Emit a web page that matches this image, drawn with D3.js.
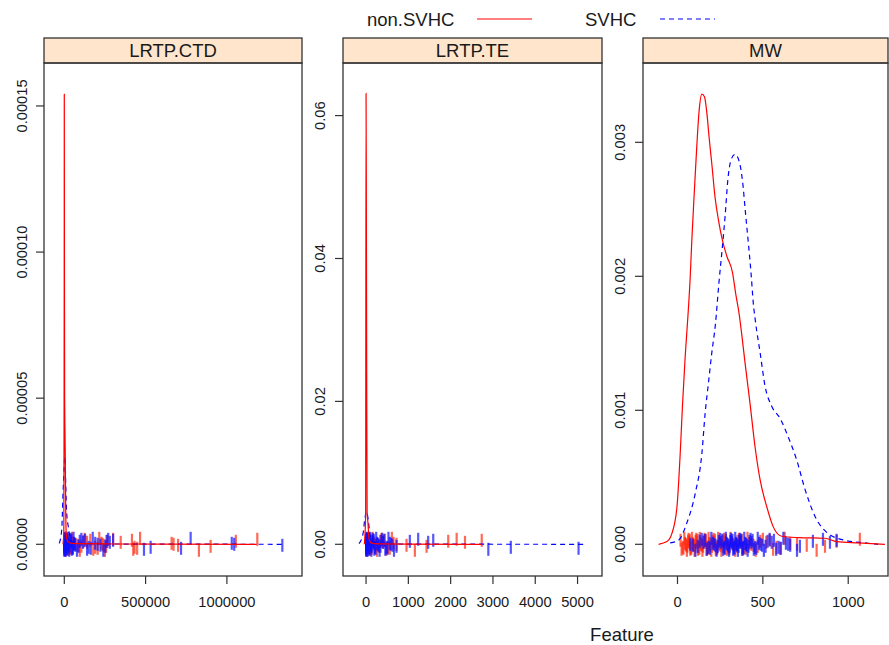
<!DOCTYPE html>
<html>
<head>
<meta charset="utf-8">
<script src="https://cdn.jsdelivr.net/npm/d3@7/dist/d3.min.js"></script>
<style>
html,body{margin:0;padding:0;background:#fff;}
svg{display:block;}
text{font-family:"Liberation Sans",Arial,sans-serif;fill:#1a1a1a;}
</style>
</head>
<body>
<svg id="chart" width="889" height="645"></svg>
<script>
// ---------------- data ----------------
const panelNames = ["LRTP.CTD", "LRTP.TE", "MW"];
const groups = ["non.SVHC", "SVHC"];

const xTicks_CTD = [0, 500000, 1000000];
const xTicks_TE = [0, 1000, 2000, 3000, 4000, 5000];
const xTicks_MW = [0, 500, 1000];
const yTicks_CTD = [0, 0.00005, 0.00010, 0.00015];
const yTicks_TE = [0, 0.02, 0.04, 0.06];
const yTicks_MW = [0, 0.001, 0.002, 0.003];
const yTickLabels_CTD = ["0.00000", "0.00005", "0.00010", "0.00015"];
const yTickLabels_TE = ["0.00", "0.02", "0.04", "0.06"];
const yTickLabels_MW = ["0.000", "0.001", "0.002", "0.003"];

// density curves [x, density]
const dens_nonSVHC_CTD = [[-8000,0],[-3000,0.000004],[-1500,0.00004],[-500,0.000093],[0,0.000154],[800,0.000093],[2000,0.00005],[3500,0.000041],[6000,0.00003],[9000,0.00001],[13000,0.0000027],[20000,0.0000012],[40000,0.0000004],[100000,0.0000002],[300000,0.0000001],[600000,0.00000005],[1183000,0]];
const dens_SVHC_CTD = [[-31000,0.0000003],[-16000,0.0000049],[-6000,0.00002],[4300,0.00003],[9000,0.00002],[14800,0.0000107],[24600,0.000006],[35000,0.0000025],[47000,0.0000008],[100000,0.0000003],[300000,0.0000001],[800000,0.00000005],[1347000,0]];
const dens_nonSVHC_TE = [[-40,0],[-10,0.004],[0,0.0631],[8,0.045],[15,0.024],[25,0.0046],[45,0.003],[70,0.0008],[120,0.0002],[300,0.00005],[1000,0.00002],[2735,0]];
const dens_SVHC_TE = [[-166,0.0001],[-71,0.0015],[-30,0.0035],[9,0.00456],[50,0.0035],[88,0.0015],[160,0.0003],[400,0.0001],[1000,0.00003],[3000,0.00001],[5223,0]];
const dens_nonSVHC_MW = [[-111,0],[-62,0.00002],[-33,0.00008],[-3,0.00028],[16,0.00068],[29,0.00103],[45,0.00140],[61,0.00170],[74,0.00198],[84,0.00227],[99,0.00264],[113,0.00297],[127,0.00324],[143,0.00336],[158,0.00334],[172,0.00322],[185,0.00304],[201,0.00284],[220,0.00259],[240,0.00242],[263,0.00227],[289,0.00215],[322,0.00203],[341,0.00187],[361,0.00172],[376,0.00157],[396,0.00135],[425,0.00105],[454,0.00073],[484,0.00048],[523,0.00028],[561,0.00013],[610,0.00006],[708,0.00005],[864,0.000045],[932,0.00002],[1059,0.00001],[1215,0]];
const dens_SVHC_MW = [[-43,0.00001],[6,0.00003],[55,0.00016],[104,0.00038],[143,0.00068],[162,0.00098],[181,0.0012],[201,0.00143],[222,0.00164],[244,0.00197],[263,0.00222],[279,0.00245],[295,0.00272],[314,0.00287],[337,0.00291],[361,0.00286],[380,0.00272],[400,0.00245],[415,0.00225],[431,0.00202],[444,0.0018],[458,0.00165],[484,0.00143],[513,0.00118],[552,0.00103],[601,0.00094],[649,0.0008],[698,0.00063],[747,0.00041],[805,0.00021],[883,0.00008],[981,0.00003],[1098,0.00001],[1175,0]];

// observed values (rug)
const rug_nonSVHC_CTD = [150,400,900,1500,2500,3300,4000,5200,7000,9000,11000,14000,18000,22000,26000,33000,40000,48000,55000,70000,85000,95000,105000,118000,125000,140000,160000,178000,190000,205000,215000,228000,235000,242000,250000,258000,265000,300000,347000,416000,424000,432000,448000,466000,660000,672000,700000,828000,900000,1055000,1187000];
const rug_SVHC_CTD = [50,100,300,600,900,1200,1600,2000,2500,3000,3700,4500,5200,6000,7000,8000,9000,10000,11500,13000,14500,16000,18000,20000,22000,24000,26000,28000,30500,33000,35500,38000,41000,44000,47000,50000,53000,57000,60000,64000,68000,78000,88000,95000,105000,115000,128000,140000,150000,163000,175000,190000,205000,222000,240000,252000,260000,270000,280000,300000,490000,531000,718000,777000,1030000,1045000,1341000];
const rug_nonSVHC_TE = [1,2,4,6,9,12,16,20,27,35,45,55,68,80,95,110,130,150,175,200,230,260,295,330,365,400,440,480,520,560,610,650,720,957,1154,1431,1943,2142,2339,2735];
const rug_SVHC_TE = [0.5,1,2,3,4,5,6,8,10,12,15,18,21,25,29,33,38,43,49,55,60,67,74,80,88,96,105,115,125,135,145,158,170,182,196,210,225,240,260,280,300,320,340,360,380,405,430,455,480,505,530,560,590,625,660,720,1035,1232,1469,1588,2891,3422,5024];
const rug_nonSVHC_MW = [18,24,30,35,40,44,48,52,55,58,62,65,68,72,75,78,81,85,88,92,96,100,103,106,110,113,117,120,124,128,131,135,138,142,146,150,154,158,162,166,170,174,178,182,186,190,194,198,202,206,211,215,220,224,229,233,238,242,247,252,257,262,267,272,278,284,290,296,303,310,317,324,331,338,345,352,360,368,376,384,392,400,410,420,432,445,458,470,485,500,520,540,560,580,600,628,660,700,757,815,864,932,1068];
const rug_SVHC_MW = [75,90,105,118,130,142,152,162,172,182,190,198,206,214,222,229,236,243,250,256,262,268,273,278,283,288,293,298,302,306,310,314,318,322,326,330,334,338,342,346,350,354,358,362,366,370,374,378,382,386,391,396,401,406,411,416,422,428,434,440,447,454,462,470,478,487,496,506,516,528,540,552,565,578,592,606,620,635,648,660,700,717,793,852,893,932];

// ---------------- layout ----------------
const svg = d3.select("#chart");
const colRed = "#ff0000", colBlue = "#0000ff";

const panels = [
  {name: panelNames[0], x0: 44, x1: 302, xDom: [-124846, 1461900], yDom: [-0.00001085, 0.0001647],
   xTicks: xTicks_CTD, yTicks: yTicks_CTD, yLabels: yTickLabels_CTD, labX: 22,
   dens: [dens_nonSVHC_CTD, dens_SVHC_CTD], rug: [rug_nonSVHC_CTD, rug_SVHC_CTD]},
  {name: panelNames[1], x0: 343, x1: 602, xDom: [-545, 5578], yDom: [-0.004437, 0.06736],
   xTicks: xTicks_TE, yTicks: yTicks_TE, yLabels: yTickLabels_TE, labX: 320,
   dens: [dens_nonSVHC_TE, dens_SVHC_TE], rug: [rug_nonSVHC_TE, rug_SVHC_TE]},
  {name: panelNames[2], x0: 643, x1: 888, xDom: [-202, 1233], yDom: [-0.0002366, 0.003592],
   xTicks: xTicks_MW, yTicks: yTicks_MW, yLabels: yTickLabels_MW, labX: 620,
   dens: [dens_nonSVHC_MW, dens_SVHC_MW], rug: [rug_nonSVHC_MW, rug_SVHC_MW]}
];
const stripTop = 38, stripBot = 63, plotBot = 576;
const jit = [-4, 2, -1, 5, -3, 0, 3, -5, 1, 4, -2, 6, -6];

panels.forEach((p, pi) => {
  const x = d3.scaleLinear().domain(p.xDom).range([p.x0, p.x1]);
  const y = d3.scaleLinear().domain(p.yDom).range([plotBot, stripBot]);
  const g = svg.append("g");
  const clipId = "clip" + pi;
  svg.append("clipPath").attr("id", clipId).append("rect")
    .attr("x", p.x0).attr("y", stripBot).attr("width", p.x1 - p.x0).attr("height", plotBot - stripBot);

  // strip
  g.append("rect").attr("x", p.x0).attr("y", stripTop).attr("width", p.x1 - p.x0).attr("height", stripBot - stripTop)
    .attr("fill", "#ffe5cc").attr("stroke", "#333").attr("stroke-width", 1.3);
  g.append("text").attr("x", (p.x0 + p.x1) / 2).attr("y", (stripTop + stripBot) / 2 + 6.5)
    .attr("text-anchor", "middle").attr("font-size", 18.5).text(p.name);

  const inner = g.append("g").attr("clip-path", `url(#${clipId})`);
  // rugs
  [0, 1].forEach(gi => {
    inner.selectAll(null).data(p.rug[gi]).enter().append("line")
      .attr("x1", d => x(d)).attr("x2", d => x(d))
      .attr("y1", (d, i) => y(0) + jit[(i * 3 + gi * 5) % jit.length] - 6.5)
      .attr("y2", (d, i) => y(0) + jit[(i * 3 + gi * 5) % jit.length] + 6.5)
      .attr("stroke", gi === 0 ? "#ff2a10" : "#1010ff").attr("stroke-opacity", 0.7).attr("stroke-width", 2.2);
  });
  // density lines
  const line = d3.line().curve(d3.curveMonotoneX).x(d => x(d[0])).y(d => y(d[1]));
  inner.append("path").datum(p.dens[1]).attr("d", line).attr("fill", "none")
    .attr("stroke", colBlue).attr("stroke-width", 1.2).attr("stroke-dasharray", "5,4");
  inner.append("path").datum(p.dens[0]).attr("d", line).attr("fill", "none")
    .attr("stroke", colRed).attr("stroke-width", 1.2);

  // frame
  g.append("rect").attr("x", p.x0).attr("y", stripBot).attr("width", p.x1 - p.x0).attr("height", plotBot - stripBot)
    .attr("fill", "none").attr("stroke", "#333").attr("stroke-width", 1.3);

  // y axis
  p.yTicks.forEach((t, i) => {
    g.append("line").attr("x1", p.x0 - 8).attr("x2", p.x0).attr("y1", y(t)).attr("y2", y(t))
      .attr("stroke", "#333").attr("stroke-width", 1.2);
    g.append("text").attr("transform", `translate(${p.labX + 5},${y(t)}) rotate(-90)`)
      .attr("text-anchor", "middle").attr("font-size", 14.7).text(p.yLabels[i]);
  });
  // x axis
  p.xTicks.forEach(t => {
    g.append("line").attr("x1", x(t)).attr("x2", x(t)).attr("y1", plotBot).attr("y2", plotBot + 8)
      .attr("stroke", "#333").attr("stroke-width", 1.2);
    g.append("text").attr("x", x(t)).attr("y", 607).attr("text-anchor", "middle").attr("font-size", 14.7).text(String(t));
  });
});

// x label
svg.append("text").attr("x", 622).attr("y", 641).attr("text-anchor", "middle").attr("font-size", 18.5).text("Feature");

// legend
const lg = svg.append("g");
lg.append("text").attr("x", 367).attr("y", 26).attr("font-size", 18.5).text(groups[0]);
lg.append("line").attr("x1", 477).attr("x2", 532).attr("y1", 19).attr("y2", 19).attr("stroke", colRed).attr("stroke-width", 1.2);
lg.append("text").attr("x", 585).attr("y", 26).attr("font-size", 18.5).text(groups[1]);
lg.append("line").attr("x1", 660).attr("x2", 715).attr("y1", 19).attr("y2", 19).attr("stroke", colBlue).attr("stroke-width", 1.2).attr("stroke-dasharray", "5,4");
</script>
</body>
</html>
